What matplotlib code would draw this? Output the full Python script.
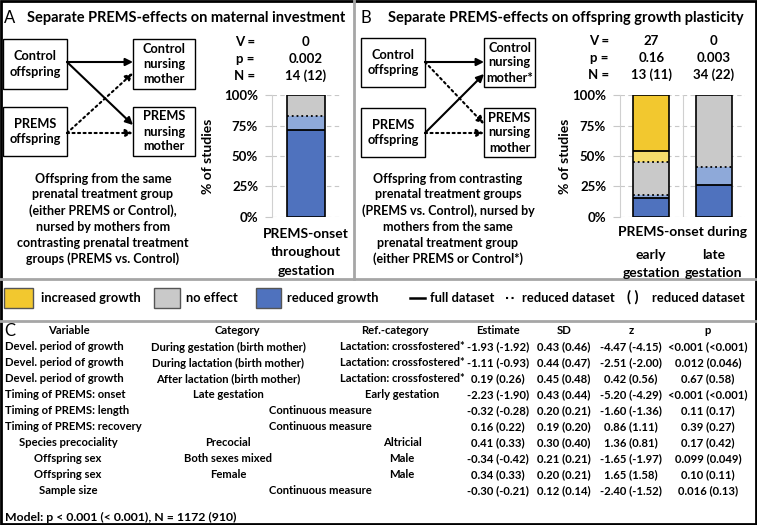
import matplotlib
matplotlib.use("Agg")
import matplotlib.pyplot as plt
from matplotlib.patches import Rectangle
from matplotlib.transforms import blended_transform_factory

plt.rcParams["font.family"] = ["Lato", "DejaVu Sans"]
plt.rcParams["font.weight"] = "bold"

# ---- data ----
dark_blue = "#4f72be"
light_blue = "#8ea9d9"
grey = "#c9c9c9"
light_yellow = "#f6dc6c"
yellow = "#f2c82f"

a_labels = ["PREMS-onset\nthroughout\ngestation"]
a_reduced_full = [71.4]
a_reduced_red = [83.3]
a_noeffect_red = [100.0]
a_noeffect_full = [100.0]
a_V = ["0"]
a_p = ["0.002"]
a_N = ["14 (12)"]

b_labels = ["early\ngestation", "late\ngestation"]
b_reduced_full = [15.4, 26.5]
b_reduced_red = [18.2, 40.9]
b_noeffect_red = [45.5, 100.0]
b_noeffect_full = [53.8, 100.0]
b_V = ["27", "0"]
b_p = ["0.16", "0.003"]
b_N = ["13 (11)", "34 (22)"]

tbl_header = ["Variable", "Category", "Ref.-category", "Estimate", "SD", "z", "p"]
tbl_variable = ["Devel. period of growth", "Devel. period of growth", "Devel. period of growth",
                "Timing of PREMS: onset", "Timing of PREMS: length", "Timing of PREMS: recovery",
                "Species precociality", "Offspring sex", "Offspring sex", "Sample size"]
tbl_category = ["During gestation (birth mother)", "During lactation (birth mother)",
                "After lactation (birth mother)", "Late gestation", "Continuous measure",
                "Continuous measure", "Precocial", "Both sexes mixed", "Female", "Continuous measure"]
tbl_ref = ["Lactation: crossfostered*", "Lactation: crossfostered*", "Lactation: crossfostered*",
           "Early gestation", "", "", "Altricial", "Male", "Male", ""]
tbl_estimate = ["-1.93 (-1.92)", "-1.11 (-0.93)", "0.19 (0.26)", "-2.23 (-1.90)", "-0.32 (-0.28)",
                "0.16 (0.22)", "0.41 (0.33)", "-0.34 (-0.42)", "0.34 (0.33)", "-0.30 (-0.21)"]
tbl_sd = ["0.43 (0.46)", "0.44 (0.47)", "0.45 (0.48)", "0.43 (0.44)", "0.20 (0.21)",
          "0.19 (0.20)", "0.30 (0.40)", "0.21 (0.21)", "0.20 (0.21)", "0.12 (0.14)"]
tbl_z = ["-4.47 (-4.15)", "-2.51 (-2.00)", "0.42 (0.56)", "-5.20 (-4.29)", "-1.60 (-1.36)",
         "0.86 (1.11)", "1.36 (0.81)", "-1.65 (-1.97)", "1.65 (1.58)", "-2.40 (-1.52)"]
tbl_p = ["<0.001 (<0.001)", "0.012 (0.046)", "0.67 (0.58)", "<0.001 (<0.001)", "0.11 (0.17)",
         "0.39 (0.27)", "0.17 (0.42)", "0.099 (0.049)", "0.10 (0.11)", "0.016 (0.13)"]
model_text = "Model: p < 0.001 (< 0.001), N = 1172 (910)"

W, H = 757, 525
fig = plt.figure(figsize=(W / 100, H / 100), dpi=100)
ax0 = fig.add_axes([0, 0, 1, 1])
ax0.set_xlim(0, W)
ax0.set_ylim(H, 0)
ax0.axis("off")


def px_axes(x0, y0, x1, y1):
    return fig.add_axes([x0 / W, 1 - y1 / H, (x1 - x0) / W, (y1 - y0) / H])


def stacked_bars(ax, rf, rr, nr, nf, width):
    for i in range(len(rf)):
        layers = [(0, rf[i], dark_blue), (rf[i], rr[i], light_blue), (rr[i], nr[i], grey),
                  (nr[i], nf[i], light_yellow), (nf[i], 100, yellow)]
        for lo, hi, c in layers:
            if hi > lo:
                ax.bar(i, hi - lo, bottom=lo, width=width, color=c, zorder=2)
        for y, ls in [(rf[i], "-"), (rr[i], ":"), (nr[i], ":"), (nf[i], "-")]:
            if y < 100:
                ax.hlines(y, i - width / 2, i + width / 2, colors="black",
                          linestyles=ls, lw=1.3, zorder=3)
        ax.bar(i, 100, width=width, fill=False, edgecolor="black", lw=1.2, zorder=4)


def style_bar_axes(ax, n):
    ax.set_xlim(-0.5, n - 0.5)
    ax.set_ylim(0, 100)
    ax.set_yticks([0, 25, 50, 75, 100])
    ax.set_yticklabels(["0%", "25%", "50%", "75%", "100%"], fontsize=9.5, fontweight="bold")
    ax.yaxis.grid(True, color="#c8c8c8", linestyle=(0, (4, 3)), lw=0.8)
    ax.set_axisbelow(True)
    for s in ["top", "right", "bottom"]:
        ax.spines[s].set_visible(False)
    ax.spines["left"].set_color("#d0d0d0")
    ax.tick_params(axis="y", length=5, color="#c8c8c8", pad=5)
    ax.tick_params(axis="x", length=0, pad=8)
    ax.patch.set_alpha(0)


def box(x0, y0, x1, y1, text):
    ax0.add_patch(Rectangle((x0, y0), x1 - x0, y1 - y0, fill=False, edgecolor="black", lw=1))
    ax0.text((x0 + x1) / 2, (y0 + y1) / 2, text, ha="center", va="center",
             fontsize=9.2, linespacing=1.3)


def arrow(x0, y0, x1, y1, ls):
    ax0.annotate("", xy=(x1, y1), xytext=(x0, y0),
                 arrowprops=dict(arrowstyle="-|>", lw=1.5, linestyle=ls, color="black",
                                 mutation_scale=11, shrinkA=0, shrinkB=0))


# ---- panel A ----
ax0.text(4, 18, "A", fontsize=12, fontweight="normal", va="center")
ax0.text(27, 18, "Separate PREMS-effects on maternal investment", fontsize=10.5, va="center")
box(3, 39, 67, 89, "Control\noffspring")
box(3, 107, 67, 156, "PREMS\noffspring")
box(133, 39, 195, 89, "Control\nnursing\nmother")
box(133, 107, 195, 156, "PREMS\nnursing\nmother")
arrow(67, 62, 133, 62, "-")
arrow(67, 62, 133, 125, "-")
arrow(67, 133, 133, 73, ":")
arrow(67, 133, 133, 133, ":")
ax0.text(103, 219, "Offspring from the same\nprenatal treatment group\n(either PREMS or Control),\n"
         "nursed by mothers from\ncontrasting prenatal treatment\ngroups (PREMS vs. Control)",
         ha="center", va="center", fontsize=9, linespacing=1.38)

axA = px_axes(272, 95.5, 340, 216.7)
stacked_bars(axA, a_reduced_full, a_reduced_red, a_noeffect_red, a_noeffect_full, 0.545)
style_bar_axes(axA, 1)
axA.set_xticks([0])
axA.set_xticklabels(a_labels, fontsize=10, fontweight="bold", linespacing=1.65)
ax0.text(208, 156, "% of studies", rotation=90, ha="center", va="center", fontsize=10)

trA = blended_transform_factory(axA.transData, ax0.transData)
for yy, lab, vals in [(42, "V =", a_V), (59, "p =", a_p), (76, "N =", a_N)]:
    ax0.text(245, yy, lab, ha="center", va="center", fontsize=9.5)
    for i, v in enumerate(vals):
        ax0.text(i, yy, v, transform=trA, ha="center", va="center", fontsize=9.5)

# ---- panel B ----
ax0.text(361, 18, "B", fontsize=12, fontweight="normal", va="center")
ax0.text(388, 18, "Separate PREMS-effects on offspring growth plasticity", fontsize=10.5,
         va="center")
box(361, 38, 425, 87, "Control\noffspring")
box(361, 108, 425, 157, "PREMS\noffspring")
box(484, 38, 535, 87, "Control\nnursing\nmother*")
box(484, 108, 535, 157, "PREMS\nnursing\nmother")
arrow(425, 62, 484, 62, "-")
arrow(425, 62, 484, 124, ":")
arrow(425, 133, 484, 74, "-")
arrow(425, 133, 484, 133, ":")
ax0.text(448, 219, "Offspring from contrasting\nprenatal treatment groups\n(PREMS vs. Control), nursed by\n"
         "mothers from the same\nprenatal treatment group\n(either PREMS or Control*)",
         ha="center", va="center", fontsize=9, linespacing=1.38)

axB = px_axes(620, 95.5, 745, 216.7)
stacked_bars(axB, b_reduced_full, b_reduced_red, b_noeffect_red, b_noeffect_full, 0.58)
style_bar_axes(axB, 2)
axB.axvline(0.5, color="#d0d0d0", lw=0.8, zorder=1)
axB.set_xticks([0, 1])
axB.set_xticklabels(b_labels, fontsize=10, fontweight="bold", linespacing=1.65)
axB.tick_params(axis="x", pad=23)
trB = blended_transform_factory(axB.transData, ax0.transData)
axB.text(0.5, 232, "PREMS-onset during", transform=trB, ha="center", va="center", fontsize=10)
ax0.text(565, 156, "% of studies", rotation=90, ha="center", va="center", fontsize=10)

for yy, lab, vals in [(41, "V =", b_V), (58, "p =", b_p), (75, "N =", b_N)]:
    ax0.text(599, yy, lab, ha="center", va="center", fontsize=9.5)
    for i, v in enumerate(vals):
        ax0.text(i, yy, v, transform=trB, ha="center", va="center", fontsize=9.5)

# ---- legend row ----
ly = 298
lfs = 9.3
for x0, x1, c in [(4, 33, yellow), (154, 180, grey), (256, 281, dark_blue)]:
    ax0.add_patch(Rectangle((x0, 288), x1 - x0, 20, facecolor=c, edgecolor="#555555", lw=1))
ax0.text(41, ly, "increased growth", va="center", fontsize=lfs)
ax0.text(186, ly, "no effect", va="center", fontsize=lfs)
ax0.text(287, ly, "reduced growth", va="center", fontsize=lfs)
ax0.plot([410, 425], [ly, ly], color="black", lw=1.8)
ax0.text(430, ly, "full dataset", va="center", fontsize=lfs)
ax0.plot([506, 516], [ly, ly], color="black", lw=1.5, linestyle=":")
ax0.text(522, ly, "reduced dataset", va="center", fontsize=lfs)
ax0.text(633, ly - 1, "( )", ha="center", va="center", fontsize=10.5)
ax0.text(652, ly, "reduced dataset", va="center", fontsize=lfs)

# ---- panel C table ----
fs = 8.1
ax0.text(4, 331, "C", fontsize=12, fontweight="normal", va="center")
col_x = [69, 237, 395, 498, 564, 631, 708]
for x, h in zip(col_x, tbl_header):
    ax0.text(x, 331, h, ha="center", va="center", fontsize=fs)
for r in range(len(tbl_variable)):
    y = 347 + 16 * r
    if r < 6:
        ax0.text(5, y, tbl_variable[r], ha="left", va="center", fontsize=fs)
    else:
        ax0.text(68, y, tbl_variable[r], ha="center", va="center", fontsize=fs)
    if tbl_ref[r] == "":
        ax0.text(320, y, tbl_category[r], ha="center", va="center", fontsize=fs)
    else:
        ax0.text(228, y, tbl_category[r], ha="center", va="center", fontsize=fs)
        ax0.text(402, y, tbl_ref[r], ha="center", va="center", fontsize=fs)
    for x, vals in zip(col_x[3:], [tbl_estimate, tbl_sd, tbl_z, tbl_p]):
        ax0.text(x, y, vals[r], ha="center", va="center", fontsize=fs)
ax0.text(5, 517, model_text, ha="left", va="center", fontsize=8.8)

# ---- frame lines ----
ax0.plot([354, 354], [0, 279], color="#a6a6a6", lw=2)
ax0.plot([0, W], [279, 279], color="#a6a6a6", lw=2)
ax0.plot([0, W], [321, 321], color="#a6a6a6", lw=2)
ax0.add_patch(Rectangle((1, 1), W - 2.5, H - 2.5, fill=False, edgecolor="black", lw=2))

fig.savefig("out.png", dpi=100)
